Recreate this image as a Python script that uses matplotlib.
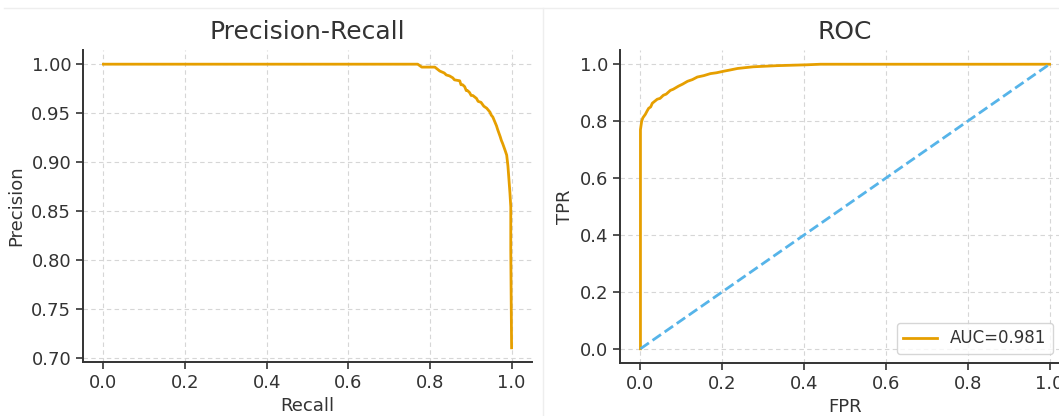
import matplotlib.pyplot as plt
from matplotlib.lines import Line2D

# Precision-Recall curve
recall = [0.0, 0.77, 0.78, 0.80, 0.812, 0.818, 0.824, 0.835, 0.840, 0.848, 0.856,
          0.860, 0.873, 0.876, 0.880, 0.885, 0.889, 0.892, 0.897, 0.901, 0.905,
          0.914, 0.918, 0.925, 0.932, 0.939, 0.947, 0.950, 0.954, 0.960, 0.963,
          0.966, 0.972, 0.975, 0.978, 0.984, 0.988, 0.991, 0.993, 0.996, 0.998,
          0.998, 1.0]
precision = [1.0, 1.0, 0.997, 0.997, 0.997, 0.995, 0.993, 0.991, 0.989, 0.988, 0.986,
             0.984, 0.983, 0.979, 0.979, 0.977, 0.973, 0.973, 0.971, 0.968, 0.968,
             0.965, 0.962, 0.961, 0.957, 0.955, 0.951, 0.948, 0.946, 0.940, 0.937,
             0.933, 0.926, 0.922, 0.919, 0.912, 0.907, 0.896, 0.885, 0.868, 0.854,
             0.81, 0.71]

# ROC curve
fpr = [0.0, 0.0, 0.003, 0.006, 0.012, 0.016, 0.020, 0.025, 0.029, 0.035, 0.041,
       0.048, 0.056, 0.063, 0.073, 0.080, 0.093, 0.103, 0.115, 0.127, 0.139,
       0.155, 0.171, 0.186, 0.202, 0.220, 0.237, 0.256, 0.276, 0.334, 0.407,
       0.44, 1.0]
tpr = [0.0, 0.77, 0.80, 0.812, 0.824, 0.835, 0.845, 0.850, 0.863, 0.870, 0.877,
       0.880, 0.891, 0.895, 0.908, 0.912, 0.923, 0.930, 0.940, 0.946, 0.955,
       0.960, 0.967, 0.970, 0.975, 0.980, 0.985, 0.988, 0.991, 0.995, 0.998,
       1.0, 1.0]
auc = 0.981

orange = '#E69F00'
blue = '#56B4E9'
text_c = '#333333'

plt.rcParams['font.family'] = 'DejaVu Sans'
plt.rcParams['text.color'] = text_c
plt.rcParams['axes.labelcolor'] = text_c
plt.rcParams['xtick.color'] = text_c
plt.rcParams['ytick.color'] = text_c

W, H = 1059, 416
fig = plt.figure(figsize=(W / 100, H / 100), dpi=100)

def px_axes(x0, y0, x1, y1):
    return fig.add_axes([x0 / W, 1 - y1 / H, (x1 - x0) / W, (y1 - y0) / H])

ax1 = px_axes(83, 50, 532, 362)
ax2 = px_axes(620, 50, 1070, 363)

for ax in (ax1, ax2):
    ax.spines['top'].set_visible(False)
    ax.spines['right'].set_visible(False)
    for s in ('left', 'bottom'):
        ax.spines[s].set_color(text_c)
        ax.spines[s].set_linewidth(1.4)
    ax.grid(True, linestyle=(0, (4, 3)), color='#d6d6d6', linewidth=0.8)
    ax.set_axisbelow(True)
    ax.tick_params(labelsize=13, length=5, width=1.2)

# Precision-Recall
ax1.plot(recall, precision, color=orange, linewidth=2)
ax1.set_xlim(-0.05, 1.05)
ax1.set_ylim(0.6955, 1.0145)
ax1.set_xticks([0.0, 0.2, 0.4, 0.6, 0.8, 1.0])
ax1.set_yticks([0.70, 0.75, 0.80, 0.85, 0.90, 0.95, 1.00])
ax1.set_yticklabels(['0.70', '0.75', '0.80', '0.85', '0.90', '0.95', '1.00'])
ax1.set_xlabel('Recall', fontsize=13)
ax1.set_ylabel('Precision', fontsize=13)
ax1.set_title('Precision-Recall', fontsize=18, pad=8)

# ROC
ax2.plot(fpr, tpr, color=orange, linewidth=2, label=f'AUC={auc:.3f}')
ax2.plot([0, 1], [0, 1], color=blue, linestyle='--', linewidth=2)
ax2.set_xlim(-0.05, 1.05)
ax2.set_ylim(-0.05, 1.05)
ax2.set_xticks([0.0, 0.2, 0.4, 0.6, 0.8, 1.0])
ax2.set_yticks([0.0, 0.2, 0.4, 0.6, 0.8, 1.0])
ax2.set_xlabel('FPR', fontsize=13)
ax2.set_ylabel('TPR', fontsize=13)
ax2.set_title('ROC', fontsize=18, pad=8)
ax2.legend(loc='lower right', fontsize=12, bbox_to_anchor=(1053 / W, 1 - 354 / H),
           bbox_transform=fig.transFigure, borderaxespad=0, frameon=True)

# faint screenshot borders
fig.add_artist(Line2D([4 / W, 1], [1 - 8 / H] * 2, transform=fig.transFigure,
                      color='#eeeeee', linewidth=1))
fig.add_artist(Line2D([543 / W] * 2, [0, 1 - 8 / H], transform=fig.transFigure,
                      color='#eeeeee', linewidth=1))

fig.savefig('out.png', dpi=100)
